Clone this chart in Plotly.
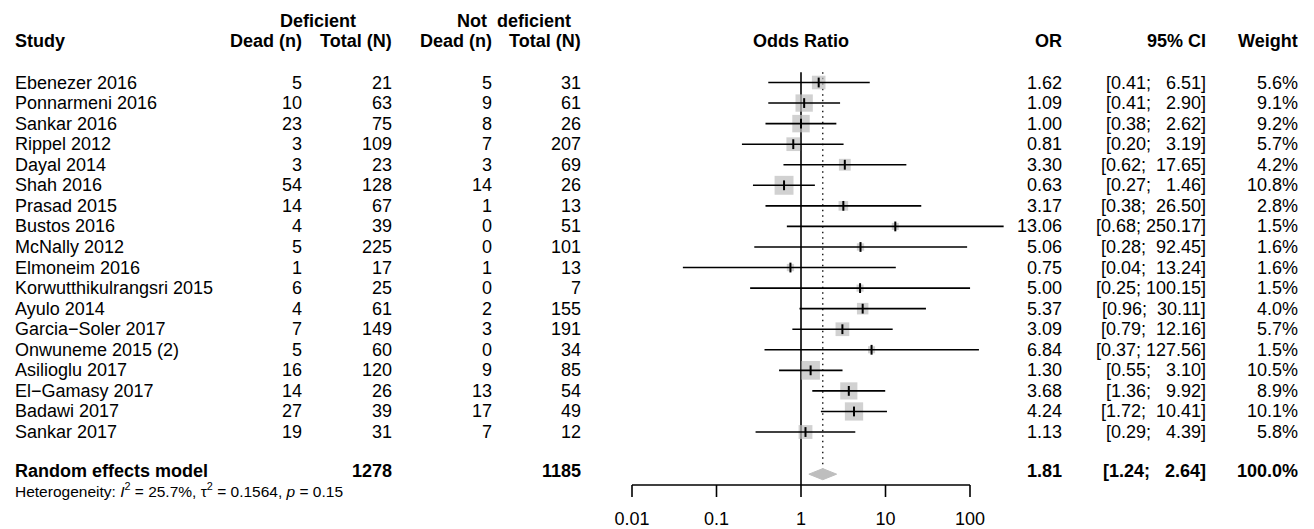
import math
import plotly.graph_objects as go

# ---------------- data ----------------
studies = ["Ebenezer 2016", "Ponnarmeni 2016", "Sankar 2016", "Rippel 2012", "Dayal 2014",
           "Shah 2016", "Prasad 2015", "Bustos 2016", "McNally 2012", "Elmoneim 2016",
           "Korwutthikulrangsri 2015", "Ayulo 2014", "Garcia\u2212Soler 2017", "Onwuneme 2015 (2)",
           "Asilioglu 2017", "El\u2212Gamasy 2017", "Badawi 2017", "Sankar 2017"]
dead_def = [5, 10, 23, 3, 3, 54, 14, 4, 5, 1, 6, 4, 7, 5, 16, 14, 27, 19]
total_def = [21, 63, 75, 109, 23, 128, 67, 39, 225, 17, 25, 61, 149, 60, 120, 26, 39, 31]
dead_nd = [5, 9, 8, 7, 3, 14, 1, 0, 0, 1, 0, 2, 3, 0, 9, 13, 17, 7]
total_nd = [31, 61, 26, 207, 69, 26, 13, 51, 101, 13, 7, 155, 191, 34, 85, 54, 49, 12]
odds = [1.62, 1.09, 1.00, 0.81, 3.30, 0.63, 3.17, 13.06, 5.06, 0.75, 5.00, 5.37, 3.09, 6.84,
        1.30, 3.68, 4.24, 1.13]
ci_lo = [0.41, 0.41, 0.38, 0.20, 0.62, 0.27, 0.38, 0.68, 0.28, 0.04, 0.25, 0.96, 0.79, 0.37,
         0.55, 1.36, 1.72, 0.29]
ci_hi = [6.51, 2.90, 2.62, 3.19, 17.65, 1.46, 26.50, 250.17, 92.45, 13.24, 100.15, 30.11,
         12.16, 127.56, 3.10, 9.92, 10.41, 4.39]
weights = [5.6, 9.1, 9.2, 5.7, 4.2, 10.8, 2.8, 1.5, 1.6, 1.6, 1.5, 4.0, 5.7, 1.5, 10.5, 8.9,
           10.1, 5.8]

sum_label = "Random effects model"
sum_total_def = 1278
sum_total_nd = 1185
sum_or = 1.81
sum_lo = 1.24
sum_hi = 2.64
sum_weight = 100.0
het_i2 = 25.7
het_tau2 = 0.1564
het_p = 0.15

tick_vals = [0.01, 0.1, 1, 10, 100]
tick_text = ["0.01", "0.1", "1", "10", "100"]

# ---------------- layout constants ----------------
W, H = 1314, 529
FONT = "Liberation Sans, Arial, sans-serif"
FS = 18
X1_PX = 801.0          # pixel of OR = 1
DEC_PX = 84.5          # pixels per decade
ROW0_PX = 82.5         # pixel of first study row
ROW_PX = 20.56         # row spacing
GRAY = "#BEBEBE"

xr = [(0 - X1_PX) / DEC_PX, (W - X1_PX) / DEC_PX]
yr = [(H - ROW0_PX) / ROW_PX, (0 - ROW0_PX) / ROW_PX]

rows = list(range(len(studies)))
sum_row = 19.05
sum_text_row = 18.9
axis_row = 19.58
tick_end_row = 20.16
ticklab_row = 21.3
het_row = 19.84

fig = go.Figure()

# reference line at OR = 1 and dotted summary line
fig.add_trace(go.Scatter(x=[1, 1], y=[-0.5, axis_row], mode="lines",
                         line=dict(color="black", width=1.6), hoverinfo="skip"))
fig.add_trace(go.Scatter(x=[sum_or, sum_or], y=[-0.5, sum_row - 0.27], mode="lines",
                         line=dict(color="black", width=1.3, dash="1.5px,4px"), hoverinfo="skip"))

# squares (side ~ sqrt(weight))
fig.add_trace(go.Scatter(x=odds, y=rows, mode="markers",
                         marker=dict(symbol="square", color=GRAY,
                                     size=[5.75 * math.sqrt(w) for w in weights],
                                     line=dict(width=0)),
                         hoverinfo="skip"))

# CI lines
cx, cy = [], []
for lo, hi, r in zip(ci_lo, ci_hi, rows):
    cx += [lo, hi, None]
    cy += [r, r, None]
fig.add_trace(go.Scatter(x=cx, y=cy, mode="lines", line=dict(color="black", width=1.6),
                         hoverinfo="skip"))

# small estimate ticks
fig.add_trace(go.Scatter(x=odds, y=rows, mode="markers",
                         marker=dict(symbol="line-ns", size=7, color="black",
                                     line=dict(color="black", width=2)),
                         hoverinfo="skip"))

# diamond
dh = 0.27
fig.add_trace(go.Scatter(x=[sum_lo, sum_or, sum_hi, sum_or, sum_lo],
                         y=[sum_row, sum_row - dh, sum_row, sum_row + dh, sum_row],
                         mode="lines", fill="toself", fillcolor=GRAY,
                         line=dict(color=GRAY, width=1), hoverinfo="skip"))

# x axis drawn by hand
fig.add_trace(go.Scatter(x=[tick_vals[0], tick_vals[-1]], y=[axis_row, axis_row], mode="lines",
                         line=dict(color="black", width=1.6), hoverinfo="skip"))
tx, ty = [], []
for v in tick_vals:
    tx += [v, v, None]
    ty += [axis_row, tick_end_row, None]
fig.add_trace(go.Scatter(x=tx, y=ty, mode="lines", line=dict(color="black", width=1.6),
                         hoverinfo="skip"))
fig.add_trace(go.Scatter(x=tick_vals, y=[ticklab_row] * len(tick_vals), mode="text",
                         text=tick_text, textposition="middle center",
                         textfont=dict(family=FONT, size=FS, color="black"),
                         hoverinfo="skip"))

# ---------------- table text ----------------
ann = []


def txt(s, px, row, anchor="right", bold=False, size=FS):
    if bold:
        s = "<b>" + s + "</b>"
    ann.append(dict(text=s, x=px / W, xref="paper", y=row, yref="y",
                    xanchor=anchor, yanchor="middle", showarrow=False,
                    font=dict(family=FONT, size=size, color="black")))


def ci_str(lo, hi):
    s = "[%.2f; %s]" % (lo, ("%.2f" % hi).rjust(6))
    return s.replace(" ", "\u00a0")


COL_STUDY = 12.7
COL_DD = 304
COL_DT = 393.5
COL_ND = 494
COL_NT = 583
COL_OR = 1064
COL_CI = 1208
COL_W = 1300

# headers
txt("Deficient", 317.5, -3, "center", True)
txt("Not\u00a0\u00a0deficient", 513.5, -3, "center", True)
txt("Study", COL_STUDY, -2, "left", True)
txt("Dead (n)", COL_DD, -2, bold=True)
txt("Total (N)", COL_DT, -2, bold=True)
txt("Dead (n)", COL_ND, -2, bold=True)
txt("Total (N)", COL_NT, -2, bold=True)
txt("Odds Ratio", X1_PX, -2, "center", True)
txt("OR", COL_OR, -2, bold=True)
txt("95% CI", COL_CI, -2, bold=True)
txt("Weight", COL_W, -2, bold=True)

for i, r in enumerate(rows):
    txt(studies[i], COL_STUDY, r, "left")
    txt(str(dead_def[i]), COL_DD, r)
    txt(str(total_def[i]), COL_DT, r)
    txt(str(dead_nd[i]), COL_ND, r)
    txt(str(total_nd[i]), COL_NT, r)
    txt("%.2f" % odds[i], COL_OR, r)
    txt(ci_str(ci_lo[i], ci_hi[i]), COL_CI, r)
    txt("%.1f%%" % weights[i], COL_W, r)

txt(sum_label, COL_STUDY, sum_text_row, "left", True)
txt(str(sum_total_def), COL_DT, sum_text_row, bold=True)
txt(str(sum_total_nd), COL_NT, sum_text_row, bold=True)
txt("%.2f" % sum_or, COL_OR, sum_text_row, bold=True)
txt(ci_str(sum_lo, sum_hi), COL_CI, sum_text_row, bold=True)
txt("%.1f%%" % sum_weight, COL_W, sum_text_row, bold=True)

het = ("Heterogeneity: <i>I</i><sup>2</sup> = %.1f%%, \u03c4<sup>2</sup> = %.4f, <i>p</i> = %.2f"
       % (het_i2, het_tau2, het_p))
txt(het, COL_STUDY, het_row, "left", size=15.5)

fig.update_layout(
    width=W, height=H, margin=dict(l=0, r=0, t=0, b=0),
    paper_bgcolor="white", plot_bgcolor="white", showlegend=False,
    xaxis=dict(type="log", range=xr, visible=False, domain=[0, 1], fixedrange=True),
    yaxis=dict(range=yr, visible=False, domain=[0, 1], fixedrange=True),
    annotations=ann,
)

fig.write_html("out.html")
